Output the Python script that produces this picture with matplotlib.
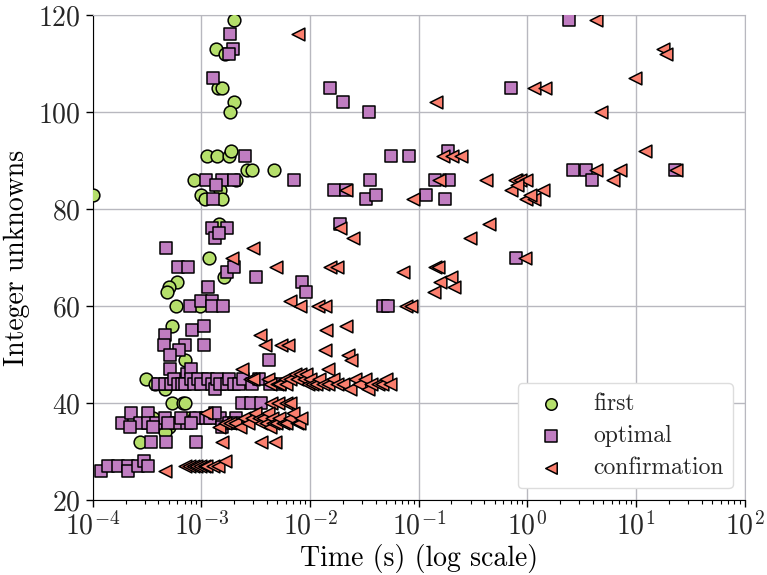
import matplotlib
matplotlib.use('Agg')
import matplotlib.pyplot as plt

plt.rcParams['font.family'] = 'serif'
plt.rcParams['font.serif'] = ['cmr10']
plt.rcParams['mathtext.fontset'] = 'cm'
plt.rcParams['axes.unicode_minus'] = False
plt.rcParams['axes.formatter.use_mathtext'] = True
plt.rcParams['text.color'] = '#262626'
plt.rcParams['xtick.labelcolor'] = '#262626'
plt.rcParams['ytick.labelcolor'] = '#262626'

# first solution found
first_t = [2.0e-3, 1.35e-3, 1.64e-3, 1.41e-3, 1.53e-3, 1.98e-3, 1.82e-3, 1.12e-3, 1.38e-3, 1.78e-3,
           1.86e-3, 2.61e-3, 2.9e-3, 4.62e-3, 8.5e-4, 2.1e-3, 1.0e-4, 9.8e-4, 1.48e-3, 1.53e-3,
           1.08e-3, 1.44e-3, 1.17e-3, 1.6e-3, 6.0e-4, 5.0e-4, 4.8e-4, 5.8e-4, 9.6e-4, 5.3e-4,
           7.1e-4, 3.1e-4, 3.7e-4, 4.6e-4, 6.5e-4, 1.1e-3, 5.4e-4, 6.7e-4, 7.0e-4, 3.6e-4,
           7.5e-4, 8.5e-4, 5.0e-4, 4.6e-4, 2.7e-4]
first_n = [119, 113, 112, 105, 105, 102, 100, 91, 91, 91,
           92, 88, 88, 88, 86, 86, 83, 83, 84, 82,
           82, 77, 70, 66, 65, 64, 63, 60, 60, 56,
           49, 45, 44, 43, 45, 45, 40, 40, 40, 37,
           37, 37, 35, 34, 32]

# optimal solution found
optimal_t = [1.85e-3, 1.94e-3, 1.8e-3, 1.29e-3, 2.5e-3, 1.09e-3, 1.53e-3, 1.98e-3, 7.07e-3, 1.35e-3,
             1.29e-3, 1.26e-3, 1.7e-3, 1.32e-3, 1.45e-3, 4.76e-4, 6.1e-4, 7.5e-4, 1.72e-3, 1.98e-3,
             1.15e-3, 3.15e-3, 8.4e-3, 9.2e-3, 7.8e-4, 1.0e-3, 1.24e-3, 1.24e-3, 1.58e-3, 8.1e-4,
             1.05e-3, 4.6e-4, 4.5e-4, 7.0e-4, 1.05e-3, 6.2e-4, 5.1e-4, 4.2e-3,
             5.1e-4, 7.3e-4, 8.0e-4,
             4.0e-4, 4.6e-4, 5.2e-4, 5.6e-4, 6.1e-4, 6.6e-4, 7.0e-4, 8.0e-4, 8.5e-4, 9.2e-4,
             1.0e-3, 1.15e-3, 1.25e-3, 1.32e-3, 1.4e-3, 1.47e-3, 1.7e-3, 1.8e-3, 1.98e-3, 2.2e-3,
             2.4e-3, 2.9e-3, 3.4e-3, 4.3e-3, 5.3e-3,
             2.34e-3, 2.88e-3, 3.55e-3,
             1.84e-4, 2.27e-4, 2.71e-4, 3.23e-4, 3.23e-4, 3.85e-4, 4.6e-4, 5.8e-4, 7.3e-4, 9.0e-4,
             1.11e-3, 1.47e-3, 2.2e-4, 3.6e-4, 1.2e-3, 1.32e-3, 1.55e-3, 1.8e-3, 2.1e-3, 4.9e-4,
             6.5e-4, 8.0e-4, 2.0e-3,
             3.4e-4, 4.7e-4, 9.0e-4,
             1.2e-4, 1.38e-4, 1.71e-4, 2.11e-4, 2.11e-4, 2.61e-4, 2.94e-4, 3.23e-4,
             1.51e-2, 2.01e-2, 3.48e-2, 0.71, 5.6e-2, 8.2e-2, 0.186, 1.65e-2, 2.12e-2, 3.53e-2,
             3.3e-2, 4.07e-2, 0.14, 0.19, 0.117, 0.176, 1.87e-2, 0.79, 4.69e-2, 5.2e-2,
             2.39, 2.62, 3.48, 3.95, 22.6]
optimal_n = [116, 113, 112, 107, 91, 86, 86, 86, 86, 85,
             82, 76, 76, 74, 75, 72, 68, 68, 67, 68,
             64, 66, 65, 63, 60, 61, 61, 60, 60, 55,
             56, 54, 52, 52, 52, 51, 50, 49,
             47, 46, 47,
             44, 44, 44, 45, 44, 44, 44, 45, 44, 45,
             44, 45, 44, 43, 45, 44, 44, 45, 44, 44,
             45, 44, 45, 44, 44,
             40, 40, 40,
             36, 38, 36, 38, 36, 36, 37, 36, 36, 37,
             37, 37, 35, 35, 37, 38, 35, 36, 37, 36,
             37, 36, 36,
             32, 32, 32,
             26, 27, 27, 27, 26, 27, 28, 27,
             105, 102, 100, 105, 91, 91, 92, 84, 84, 86,
             82, 83, 86, 86, 83, 82, 77, 70, 60, 60,
             119, 88, 88, 86, 88]

# optimality confirmed
confirm_t = [7.74e-3, 2.98e-3, 1.89e-3, 4.9e-3, 6.5e-3, 8.0e-3, 3.44e-3, 3.82e-3, 5.45e-3, 6.26e-3,
             2.34e-3,
             2.78e-3, 3.0e-3, 4.1e-3, 4.25e-3, 5.0e-3, 5.2e-3, 5.9e-3, 6.0e-3, 6.5e-3, 7.2e-3,
             7.5e-3, 8.0e-3, 8.8e-3, 9.25e-3, 9.5e-3, 1.0e-2, 1.05e-2, 1.14e-2, 1.2e-2, 1.31e-2,
             1.45e-2, 1.63e-2, 1.75e-2, 2.01e-2, 2.31e-2, 2.57e-2, 2.8e-2, 3.18e-2, 3.4e-2, 3.66e-2,
             4.22e-2, 4.6e-2, 5.04e-2, 5.4e-2,
             4.4e-3, 5.07e-3, 6.05e-3, 6.5e-3,
             1.11e-3, 1.45e-3, 1.65e-3, 1.82e-3, 2.05e-3, 2.25e-3, 2.45e-3, 2.7e-3, 2.9e-3, 3.1e-3,
             3.35e-3, 3.5e-3, 3.7e-3, 3.95e-3, 4.1e-3, 4.3e-3, 4.5e-3, 4.6e-3, 4.9e-3, 5.2e-3,
             5.6e-3, 6.0e-3, 6.5e-3, 6.9e-3, 7.5e-3, 7.9e-3, 8.2e-3,
             1.53e-3, 3.56e-3, 4.72e-3,
             4.6e-4, 7.0e-4, 7.6e-4, 8.4e-4, 9.0e-4, 9.6e-4, 1.05e-3, 1.11e-3, 1.28e-3, 1.42e-3,
             1.64e-3,
             0.145, 0.167, 0.204, 0.247, 2.16e-2, 8.85e-2, 0.153, 0.419, 0.79, 0.71,
             1.87e-2, 2.48e-2, 0.442, 0.299, 1.51e-2, 1.75e-2, 7.16e-2, 0.14, 0.15, 0.156,
             0.199, 0.139, 0.21, 1.18e-2, 1.36e-2, 7.7e-2, 8.55e-2, 1.41e-2, 2.12e-2, 1.36e-2,
             2.23e-2, 2.4e-2, 1.46e-2,
             4.3, 17.7, 18.9, 9.7, 1.16, 1.44, 4.79, 11.97, 4.3, 7.05,
             6.12, 23.4, 0.762, 0.847, 0.977, 0.8, 0.977, 1.14, 1.38, 1.05,
             0.94]
confirm_n = [116, 72, 70, 68, 61, 60, 54, 52, 52, 52,
             47,
             45, 45, 45, 44, 44, 44, 45, 44, 45, 46,
             45, 46, 45, 46, 44, 45, 44, 44, 45, 44,
             44, 45, 44, 44, 43, 45, 44, 45, 43, 44,
             44, 44, 45, 44,
             40, 40, 40, 40,
             38, 35, 36, 36, 36, 35, 37, 36, 37, 38,
             37, 36, 37, 36, 38, 35, 37, 36, 36, 37,
             36, 36, 37, 38, 36, 36, 37,
             32, 32, 32,
             26, 27, 27, 27, 27, 27, 27, 27, 27, 27,
             28,
             102, 91, 91, 91, 84, 82, 86, 86, 86, 84,
             76, 74, 77, 74, 68, 68, 67, 68, 68, 65,
             66, 63, 64, 60, 60, 60, 60, 55, 56, 51,
             50, 49, 47,
             119, 113, 112, 107, 105, 105, 100, 92, 88, 88,
             86, 88, 86, 86, 86, 85, 82, 82, 84, 83,
             70]

fig = plt.figure(figsize=(7.67, 5.75), dpi=100)
ax = fig.add_axes([0.121, 0.130, 0.850, 0.844])

ms = 84
ax.scatter(first_t, first_n, s=ms, marker='o', c='#b5df6b', edgecolors='black', linewidths=1.1,
           label='first', zorder=3)
ax.scatter(optimal_t, optimal_n, s=ms, marker='s', c='#c07dc1', edgecolors='black', linewidths=1.1,
           label='optimal', zorder=4)
ax.scatter(confirm_t, confirm_n, s=ms, marker='<', c='#fb7f6e', edgecolors='black', linewidths=1.1,
           label='confirmation', zorder=5)

ax.set_xscale('log')
ax.set_xlim(1e-4, 1e2)
ax.set_ylim(20, 120)
ax.set_xticks([1e-4, 1e-3, 1e-2, 1e-1, 1e0, 1e1, 1e2])
ax.set_yticks([20, 40, 60, 80, 100, 120])
ax.grid(True, which='major', color='#b8b8bf', linewidth=1.0)
ax.set_axisbelow(True)
ax.tick_params(axis='both', which='major', labelsize=20, direction='out', length=5, width=1)
ax.tick_params(axis='x', which='minor', direction='out', length=3, width=0.8)
ax.tick_params(top=False, right=False, which='both')

for s in ['top', 'right']:
    ax.spines[s].set_color('#b8b8bf')
for s in ['left', 'bottom']:
    ax.spines[s].set_color('black')

ax.set_xlabel('Time (s) (log scale)', fontsize=20, labelpad=2)
ax.set_ylabel('Integer unknowns', fontsize=20, labelpad=6)

ax.legend(loc='lower right', fontsize=17, scatterpoints=1, markerscale=0.9,
          frameon=True, fancybox=True, framealpha=1.0, edgecolor='#dddddd',
          borderpad=0.4, labelspacing=0.42)

fig.savefig('out.png', dpi=100)
